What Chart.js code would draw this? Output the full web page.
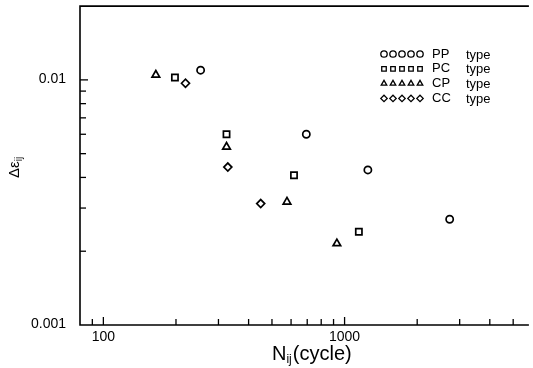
<!DOCTYPE html>
<html lang="en">
<head>
<meta charset="UTF-8">
<title>Strain range vs cycles</title>
<script src="https://cdn.jsdelivr.net/npm/chart.js"></script>
<style>
  body { margin: 0; background: #fff; }
  #wrap { width: 533px; height: 368px; }
</style>
</head>
<body>
<div id="wrap"><canvas id="myChart" width="533" height="368"></canvas></div>
<script>
  // data (N_ij in cycles, strain range)
  const ppN = [253, 694, 1249, 2727];
  const ppE = [0.01095, 0.0060, 0.00429, 0.0027];
  const pcN = [198, 324, 617, 1146];
  const pcE = [0.01022, 0.0060, 0.00408, 0.0024];
  const cpN = [165, 324, 577, 929];
  const cpE = [0.01048, 0.00533, 0.00318, 0.00215];
  const ccN = [219, 328, 449];
  const ccE = [0.00969, 0.00441, 0.00313];

  const seriesNames = ['PP', 'PC', 'CP', 'CC'];
  const seriesShapes = ['circle', 'rect', 'triangle', 'rectRot'];
  const seriesRadius = [3.6, 4.4, 4.4, 4];

  // tick marks and labelled ticks
  const xTickVals = [90, 100, 200, 300, 400, 500, 600, 700, 800, 900, 1000, 2000, 3000, 4000, 5000];
  const yTickVals = [0.002, 0.003, 0.004, 0.005, 0.006, 0.007, 0.008, 0.009, 0.01];
  const xLabelTicks = [100, 1000];
  const yLabelTicks = [0.001, 0.01];

  const FONT = '"Liberation Sans", Arial, sans-serif';

  function toPoints(xs, ys) {
    return xs.map((v, i) => ({ x: v, y: ys[i] }));
  }
  const allSeries = [toPoints(ppN, ppE), toPoints(pcN, pcE), toPoints(cpN, cpE), toPoints(ccN, ccE)];

  const datasets = allSeries.map((pts, i) => ({
    label: seriesNames[i] + ' type',
    data: pts,
    showLine: false,
    pointStyle: seriesShapes[i],
    pointRadius: seriesRadius[i],
    pointBorderWidth: 1.7,
    borderColor: '#000',
    backgroundColor: 'rgba(0,0,0,0)'
  }));

  function isMajor(v) {
    return Math.abs(Math.log10(v) - Math.round(Math.log10(v))) < 1e-6;
  }

  // frame, inward ticks, tick labels, axis titles and the legend box
  const extras = {
    id: 'extras',
    afterDraw(chart) {
      const ctx = chart.ctx;
      const a = chart.chartArea;
      const xs = chart.scales.x, ys = chart.scales.y;
      ctx.save();
      ctx.strokeStyle = '#000';
      ctx.fillStyle = '#000';
      ctx.lineWidth = 1.6;
      ctx.beginPath();
      ctx.moveTo(a.right + 2, a.top);
      ctx.lineTo(a.left, a.top);
      ctx.lineTo(a.left, a.bottom);
      ctx.lineTo(a.right + 2, a.bottom);
      ctx.stroke();

      ctx.lineWidth = 1.3;
      xTickVals.forEach(v => {
        const p = xs.getPixelForValue(v);
        ctx.beginPath();
        ctx.moveTo(p, a.bottom);
        ctx.lineTo(p, a.bottom - (isMajor(v) ? 8 : 6));
        ctx.stroke();
      });
      yTickVals.forEach(v => {
        const p = ys.getPixelForValue(v);
        ctx.beginPath();
        ctx.moveTo(a.left, p);
        ctx.lineTo(a.left + (isMajor(v) ? 8 : 6), p);
        ctx.stroke();
      });

      // tick labels
      ctx.font = '14px ' + FONT;
      ctx.textAlign = 'center';
      ctx.textBaseline = 'middle';
      xLabelTicks.forEach(v => ctx.fillText(String(v), xs.getPixelForValue(v), a.bottom + 12));
      ctx.textAlign = 'right';
      yLabelTicks.forEach(v => ctx.fillText(String(v), a.left - 14, ys.getPixelForValue(v) - 1));

      // x title  N_ij(cycle)
      ctx.textBaseline = 'alphabetic';
      ctx.textAlign = 'left';
      let x = 272, y = 360;
      ctx.font = '20px ' + FONT;
      ctx.fillText('N', x, y);
      x += ctx.measureText('N').width;
      ctx.font = '12px ' + FONT;
      ctx.fillText('ij', x, y + 3);
      x += ctx.measureText('ij').width + 1;
      ctx.font = '20px ' + FONT;
      ctx.fillText('(cycle)', x, y);

      // y title  Δε_ij
      ctx.save();
      ctx.translate(19, 168);
      ctx.rotate(-Math.PI / 2);
      ctx.font = '15px ' + FONT;
      ctx.fillText('Δε', -10, 0);
      const w = ctx.measureText('Δε').width;
      ctx.font = '10px ' + FONT;
      ctx.fillText('ij', -10 + w, 3);
      ctx.restore();

      // legend: five markers then the name
      ctx.lineWidth = 1.3;
      seriesNames.forEach((name, i) => {
        const ry = 54 + i * 14.8;
        ctx.fillStyle = 'rgba(0,0,0,0)';
        for (let k = 0; k < 5; k++) {
          Chart.helpers.drawPoint(ctx, { pointStyle: seriesShapes[i], radius: 3.2, borderWidth: 1.3 }, 384 + k * 9, ry);
        }
        ctx.fillStyle = '#000';
        ctx.font = '13px ' + FONT;
        ctx.textBaseline = 'middle';
        ctx.fillText(name, 432, ry);
        ctx.fillText('type', 466, ry + 1);
        ctx.textBaseline = 'alphabetic';
      });
      ctx.restore();
    }
  };

  const ctx = document.getElementById('myChart').getContext('2d');
  const chart = new Chart(ctx, {
    type: 'scatter',
    data: { datasets: datasets },
    options: {
      responsive: false,
      animation: false,
      layout: { padding: { left: 0, right: 4, top: 4, bottom: 0 } },
      plugins: { legend: { display: false }, tooltip: { enabled: false } },
      scales: {
        x: {
          type: 'logarithmic',
          min: 80,
          max: 5700,
          grid: { display: false, drawTicks: false },
          border: { display: false },
          ticks: { display: false },
          afterFit: s => { s.height = 368 - 325; }
        },
        y: {
          type: 'logarithmic',
          min: 0.001,
          max: 0.02,
          grid: { display: false, drawTicks: false },
          border: { display: false },
          ticks: { display: false },
          afterFit: s => { s.width = 80; }
        }
      }
    },
    plugins: [extras]
  });
</script>
</body>
</html>
